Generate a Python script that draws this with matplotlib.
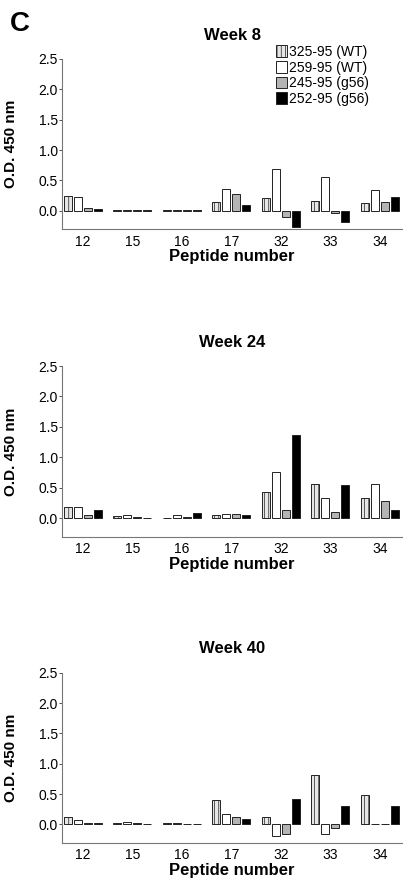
import matplotlib
matplotlib.use("Agg")
import matplotlib.pyplot as plt
import numpy as np
from matplotlib.patches import Patch

plt.rcParams['font.family'] = ['Liberation Sans', 'DejaVu Sans']
plt.rcParams['hatch.linewidth'] = 0.5
plt.rcParams['hatch.color'] = '#777777'

peptides = ['12', '15', '16', '17', '32', '33', '34']
series = ['325-95 (WT)', '259-95 (WT)', '245-95 (g56)', '252-95 (g56)']
weeks = ['Week 8', 'Week 24', 'Week 40']

# values per week: rows = series, columns = peptides
week8 = {
    '325-95 (WT)':  [0.24, 0.01, 0.005, 0.15, 0.21, 0.16, 0.13],
    '259-95 (WT)':  [0.23, 0.01, 0.005, 0.36, 0.69, 0.55, 0.34],
    '245-95 (g56)': [0.04, 0.02, 0.005, 0.27, -0.10, -0.03, 0.14],
    '252-95 (g56)': [0.03, 0.02, 0.005, 0.10, -0.26, -0.18, 0.23],
}
week24 = {
    '325-95 (WT)':  [0.19, 0.04, 0.01, 0.05, 0.43, 0.57, 0.33],
    '259-95 (WT)':  [0.19, 0.05, 0.05, 0.08, 0.755, 0.34, 0.56],
    '245-95 (g56)': [0.05, 0.02, 0.03, 0.07, 0.14, 0.11, 0.29],
    '252-95 (g56)': [0.13, 0.005, 0.09, 0.05, 1.36, 0.54, 0.13],
}
week40 = {
    '325-95 (WT)':  [0.13, 0.03, 0.02, 0.40, 0.12, 0.82, 0.49],
    '259-95 (WT)':  [0.08, 0.04, 0.02, 0.18, -0.19, -0.15, 0.015],
    '245-95 (g56)': [0.03, 0.02, 0.01, 0.13, -0.15, -0.05, 0.015],
    '252-95 (g56)': [0.02, 0.01, 0.01, 0.09, 0.42, 0.31, 0.30],
}
data = [week8, week24, week40]

styles = {
    '325-95 (WT)':  dict(facecolor='#e6e6e6', hatch='||||'),
    '259-95 (WT)':  dict(facecolor='white'),
    '245-95 (g56)': dict(facecolor='#b4b4b4'),
    '252-95 (g56)': dict(facecolor='black'),
}

W, H = 411, 882
fig = plt.figure(figsize=(W / 100, H / 100), dpi=100)

tops = [59, 366, 672.7]
bottoms = [229, 536.7, 842.7]
left_px, right_px = 62, 402

x = np.arange(len(peptides))
offsets = [-0.3, -0.1, 0.1, 0.3]
bw = 0.16

axes = []
for i, (wk, d) in enumerate(zip(weeks, data)):
    ax = fig.add_axes([left_px / W, 1 - bottoms[i] / H,
                       (right_px - left_px) / W, (bottoms[i] - tops[i]) / H])
    axes.append(ax)
    for j, s in enumerate(series):
        ax.bar(x + offsets[j], d[s], width=bw, edgecolor='#222222',
               linewidth=0.7, **styles[s])
    ax.set_xlim(-0.42, 6.45)
    ax.set_ylim(-0.3, 2.5)
    ax.set_yticks([0.0, 0.5, 1.0, 1.5, 2.0, 2.5])
    ax.set_yticklabels(['0.0', '0.5', '1.0', '1.5', '2.0', '2.5'])
    ax.set_xticks(x)
    ax.set_xticklabels(peptides)
    ax.tick_params(axis='y', length=2, width=0.6, pad=1, labelsize=10, colors='#333333', labelcolor='black')
    ax.tick_params(axis='x', length=0, pad=4, labelsize=10)
    for sp in ['top', 'right']:
        ax.spines[sp].set_visible(False)
    for sp in ['left', 'bottom']:
        ax.spines[sp].set_color('#777777')
        ax.spines[sp].set_linewidth(0.8)
    ax.set_title(wk, fontsize=12, fontweight='bold', pad=14)
    ax.set_ylabel('O.D. 450 nm', fontsize=11, fontweight='bold')
    ax.yaxis.set_label_coords(-0.13, 0.5)
    ax.set_xlabel('Peptide number', fontsize=12, fontweight='bold')
    ax.xaxis.set_label_coords(0.5, -0.12)

handles = [Patch(edgecolor='#222222', linewidth=0.7, **styles[s]) for s in series]
axes[0].legend(handles, series, loc='upper left',
               bbox_to_anchor=(276 / W, 1 - 45 / H), bbox_transform=fig.transFigure,
               frameon=False, fontsize=10, handlelength=0.8, handleheight=0.9,
               handletextpad=0.15, labelspacing=0.12, borderpad=0, borderaxespad=0)

fig.text(10 / W, 1 - 24 / H, 'C', fontsize=20, fontweight='bold', va='center', ha='left')

fig.savefig('out.png', dpi=100)
